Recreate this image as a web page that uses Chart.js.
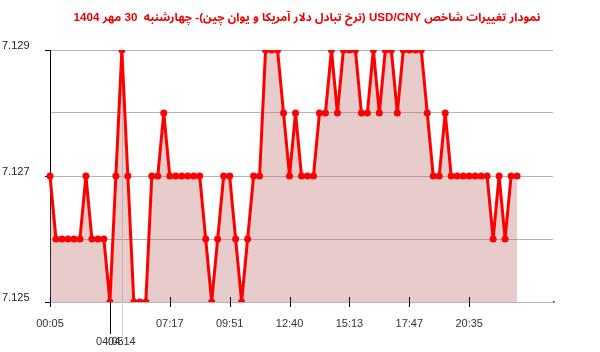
<!DOCTYPE html>
<html>
<head>
<meta charset="utf-8">
<script src="https://cdn.jsdelivr.net/npm/chart.js@4/dist/chart.umd.min.js"></script>
<style>
html,body{margin:0;padding:0;background:#fff;}
#wrap{width:600px;height:352px;position:relative;}
</style>
</head>
<body>
<div id="wrap"><canvas id="c" width="600" height="352"></canvas></div>
<script>
const chartTitle = 'نمودار تغییرات شاخص USD/CNY (نرخ تبادل دلار آمریکا و یوان چین)- چهارشنبه  30 مهر 1404';

const timeLabels = [
 '00:05','00:29','00:53','01:17','01:41','02:05','02:29','02:53','03:17','03:41',
 '04:05','04:10','04:14','04:37','05:00','05:23','05:46','06:09','06:32','06:55',
 '07:17','07:32','07:48','08:03','08:19','08:34','08:50','09:05','09:20','09:36',
 '09:51','10:08','10:25','10:42','10:59','11:16','11:33','11:50','12:07','12:23',
 '12:40','12:55','13:11','13:26','13:41','13:57','14:12','14:27','14:42','14:58',
 '15:13','15:28','15:44','15:59','16:15','16:30','16:46','17:01','17:16','17:32',
 '17:47','18:04','18:21','18:37','18:54','19:11','19:28','19:45','20:01','20:18',
 '20:35','20:52','21:09','21:25','21:42','21:59','22:16','22:33','22:49','23:06',
 '23:23','23:40','23:57','24:14','24:31'
];

const values = [
 7.127,7.126,7.126,7.126,7.126,7.126,7.127,7.126,7.126,7.126,
 7.125,7.127,7.129,7.127,7.125,7.125,7.125,7.127,7.127,7.128,
 7.127,7.127,7.127,7.127,7.127,7.127,7.126,7.125,7.126,7.127,
 7.127,7.126,7.125,7.126,7.127,7.127,7.129,7.129,7.129,7.128,
 7.127,7.128,7.127,7.127,7.127,7.128,7.128,7.129,7.128,7.129,
 7.129,7.129,7.128,7.128,7.129,7.128,7.129,7.129,7.128,7.129,
 7.129,7.129,7.129,7.128,7.127,7.127,7.128,7.127,7.127,7.127,
 7.127,7.127,7.127,7.127,7.126,7.127,7.126,7.127,7.127
];

const xTickLabels = ['00:05','07:17','09:51','12:40','15:13','17:47','20:35'];
const markerLabels = ['04:05','04:14'];   // first minimum and first maximum
const yTickLabels = ['7.125','7.127','7.129'];
const yMin = 7.125, yMax = 7.129, yStep = 0.001;

const tickPlugin = {
  id: 'tickMarks',
  beforeDatasetsDraw(chart) {
    const x = chart.scales.x, ctx = chart.ctx, ca = chart.chartArea;
    ctx.save();
    const iMax = timeLabels.indexOf(markerLabels[1]);
    const px = Math.round(x.getPixelForValue(iMax)) + 0.5;
    ctx.strokeStyle = '#d4d4d4';
    ctx.lineWidth = 1;
    ctx.beginPath(); ctx.moveTo(px, ca.top); ctx.lineTo(px, ca.bottom + 34); ctx.stroke();
    ctx.restore();
  },
  afterDraw(chart) {
    const x = chart.scales.x, ctx = chart.ctx, ca = chart.chartArea;
    ctx.save();
    ctx.strokeStyle = '#000';
    ctx.lineWidth = 1;
    xTickLabels.forEach(l => {
      const i = timeLabels.indexOf(l);
      const px = Math.round(x.getPixelForValue(i)) + 0.5;
      ctx.beginPath(); ctx.moveTo(px, ca.bottom - 5); ctx.lineTo(px, ca.bottom + 5); ctx.stroke();
    });
    const iMin = timeLabels.indexOf(markerLabels[0]);
    const pm = Math.round(x.getPixelForValue(iMin)) + 0.5;
    ctx.beginPath(); ctx.moveTo(pm, ca.bottom); ctx.lineTo(pm, ca.bottom + 32); ctx.stroke();
    ctx.fillStyle = '#333';
    ctx.fillRect(Math.round(ca.right), Math.round(ca.bottom) - 1, 1.5, 1.5);
    ctx.restore();
  }
};

new Chart(document.getElementById('c'), {
  type: 'line',
  data: {
    labels: timeLabels,
    datasets: [{
      data: values,
      borderColor: '#ff0000',
      backgroundColor: 'rgba(190,110,110,0.35)',
      borderWidth: 3,
      pointRadius: 3.5,
      pointBackgroundColor: '#ff0000',
      pointBorderWidth: 0,
      tension: 0,
      fill: 'start',
      yAxisID: 'y'
    }]
  },
  options: {
    responsive: false,
    animation: false,
    events: [],
    layout: { padding: { left: 2, right: -12, top: 0, bottom: 0 } },
    plugins: {
      legend: { display: false },
      tooltip: { enabled: false },
      title: {
        display: true,
        text: '\u202B' + chartTitle + '\u202C',
        color: '#ee0000',
        font: { family: "'Liberation Sans', 'Noto Sans Arabic', 'DejaVu Sans', sans-serif", size: 11.6, weight: 'bold', lineHeight: 1.2 },
        padding: { top: 11, bottom: 25.08 }
      }
    },
    scales: {
      x: {
        type: 'category',
        offset: false,
        afterFit(s) { s.height = 50; },
        border: { display: true, color: '#b4b4b4', width: 1 },
        grid: { display: false, drawTicks: false },
        ticks: {
          autoSkip: false,
          maxRotation: 0,
          padding: 13,
          color: '#333',
          font: { family: 'Liberation Sans', size: 11, lineHeight: 1.65 },
          callback(v, i) {
            const l = timeLabels[i];
            if (xTickLabels.includes(l)) return l;
            if (markerLabels.includes(l)) return ['', l];
            return '';
          }
        }
      },
      y: {
        min: yMin, max: yMax,
        afterFit(s) { s.width = 48; },
        border: { display: true, color: '#000', width: 1 },
        grid: {
          color: '#b4b4b4',
          tickLength: 5,
          tickColor(c) { return yTickLabels.includes(c.tick.value.toFixed(3)) ? '#000' : 'rgba(0,0,0,0)'; }
        },
        ticks: {
          stepSize: yStep,
          crossAlign: 'far',
          labelOffset: -4,
          color: '#222',
          font: { family: 'Liberation Sans', size: 11 },
          callback(v) { const s = Number(v).toFixed(3); return yTickLabels.includes(s) ? s : ''; }
        }
      },
      spacer: {
        type: 'linear',
        position: 'right',
        afterFit(s) { s.width = 59; },
        border: { display: false },
        grid: { display: false, drawTicks: false },
        ticks: { display: false }
      }
    }
  },
  plugins: [tickPlugin]
});
</script>
</body>
</html>
